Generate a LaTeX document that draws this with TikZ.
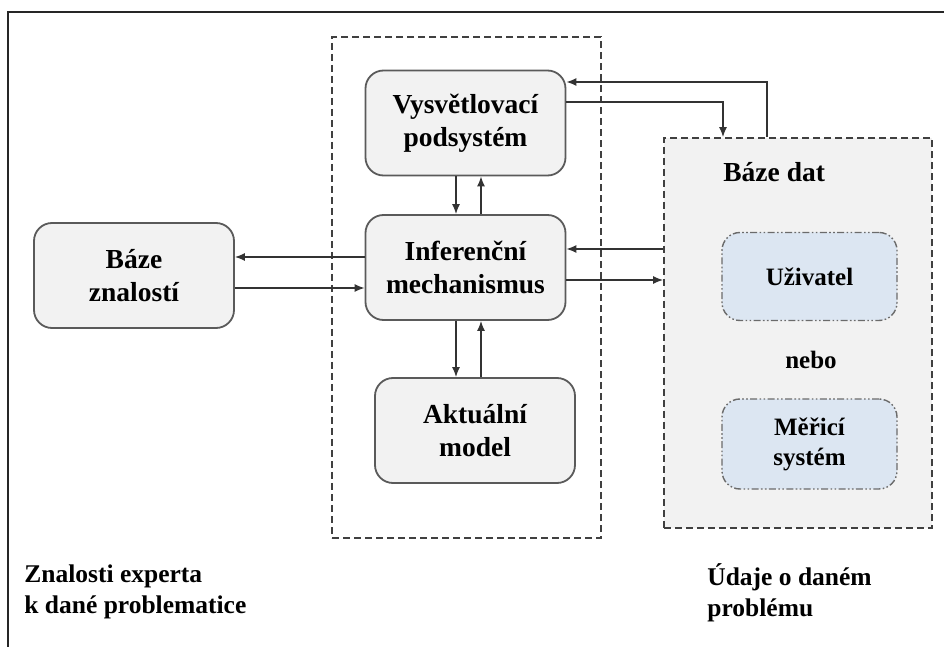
\documentclass[tikz,border=0pt]{standalone}
\usepackage{fontspec}
\setmainfont{Liberation Serif}
\usetikzlibrary{arrows.meta,calc,backgrounds}
\definecolor{boxfill}{HTML}{F2F2F2}
\definecolor{userfill}{HTML}{DCE6F2}
\definecolor{boxline}{HTML}{5A5A5A}

\begin{document}
\begin{tikzpicture}[x=0.5pt,y=-0.5pt]
\tikzset{box/.style={draw=boxline,fill=boxfill,line width=0.9pt,rounded corners=9pt,
    minimum width=100pt,minimum height=52.5pt,align=center,inner sep=0pt,
    font=\bfseries\fontsize{13.75}{16.5}\selectfont},
  userbox/.style={box,draw=boxline!90,fill=userfill,line width=0.7pt,
    dash pattern=on 3.5pt off 1.2pt on 0.8pt off 1.2pt on 0.8pt off 1.2pt,
    minimum width=87.5pt,minimum height=44pt,font=\bfseries\fontsize{12.5}{15}\selectfont},
  group/.style={draw=black!75,line width=0.9pt,dash pattern=on 3.5pt off 2pt,inner sep=0pt},
  flow/.style={draw=black!80,line width=0.75pt,-{Latex[length=5pt,width=4pt]}},
  note/.style={anchor=base west,align=left,inner sep=0pt,font=\bfseries\fontsize{12.75}{15.5}\selectfont}}
\useasboundingbox (0,0) rectangle (944,647);

\draw[line width=1.4pt,black!85] (944,12) -- (8,12) -- (8,647);

\node[group,minimum width=134.5pt,minimum height=250.5pt] (engine) at (466.5,287.5) {};
\node[group,fill=boxfill,minimum width=134pt,minimum height=195pt] (data) at (798,333) {};

\node[box] (vysv) at (465.5,123) {Vysvětlovací\\podsystém};
\node[box] (infer) at (465.5,267.5) {Inferenční\\mechanismus};
\node[box] (model) at (475,430.5) {Aktuální\\model};
\node[box] (znal) at (134,275.5) {Báze\\znalostí};

\node[anchor=base west,inner sep=0pt,font=\bfseries\fontsize{13.75}{16.5}\selectfont] (datlabel) at (723,182) {Báze dat};
\node[userbox] (user) at (809.5,276.5) {Uživatel};
\node[inner sep=0pt,font=\bfseries\fontsize{12.5}{15}\selectfont] (nebo) at (811,360) {nebo};
\node[userbox,minimum height=45pt] (meter) at (809.5,444) {Měřicí\\systém};

\coordinate (turnA) at (767,82);
\coordinate (turnB) at (723,102);
\draw[flow] (turnA |- data.north) -- (turnA) -- (turnA -| vysv.east);
\draw[flow] (turnB -| vysv.east) -- (turnB) -- (turnB |- data.north);

\foreach \a/\b in {vysv/infer,infer/model}{
  \draw[flow] (\a.south -| 456,0) -- (\b.north -| 456,0);
  \draw[flow] (\b.north -| 481,0) -- (\a.south -| 481,0);
}

\draw[flow] (infer.west |- 0,257) -- (znal.east |- 0,257);
\draw[flow] (znal.east |- 0,288) -- (infer.west |- 0,288);
\draw[flow] (data.west |- 0,249) -- (infer.east |- 0,249);
\draw[flow] (infer.east |- 0,280) -- (data.west |- 0,280);

% base is the last line here
\node[note] (expert) at (24,613) {Znalosti experta\\k dané problematice};
\node[note] (udaje) at (707,616) {Údaje o daném\\problému};
\end{tikzpicture}
\end{document}
